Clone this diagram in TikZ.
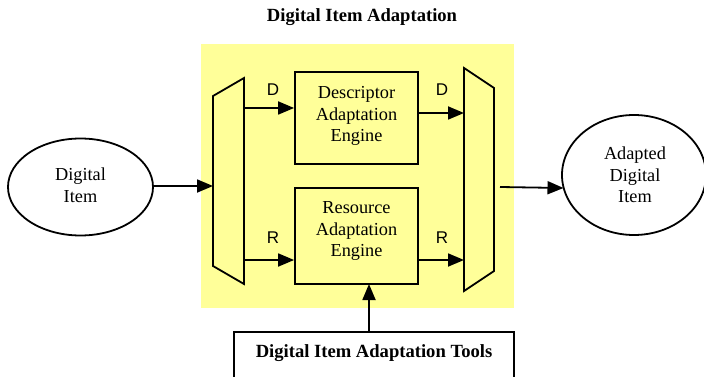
\documentclass[tikz,border=0pt]{standalone}
\usepackage{fontspec}
\setmainfont{Liberation Serif}
\setsansfont{Liberation Sans}
\usetikzlibrary{arrows.meta,shapes.geometric}
\definecolor{areayellow}{RGB}{255,255,153}
\begin{document}
\begin{tikzpicture}[x=1pt,y=-1pt,
  thick line/.style={line width=1.8pt},
  arr/.style={thick line,-{Triangle[length=16pt,width=13pt]}},
  txt/.style={align=center,inner sep=0pt,font=\fontsize{18.3}{21.5}\selectfont},
  heading/.style={inner sep=0pt,font=\bfseries\fontsize{18.6}{21}\selectfont},
  sig/.style={inner sep=0pt,font=\sffamily\fontsize{17}{20}\selectfont},
  engine/.style={draw,thick line,minimum width=123pt,inner sep=0pt},
  item/.style={draw,thick line,ellipse,inner sep=0pt},
  mux/.style={draw,thick line,fill=areayellow,line join=miter}]
  \clip (0,0) rectangle (704,377);
  \useasboundingbox (0,0) rectangle (704,377);
  \fill[white] (0,0) rectangle (704,377);

  % adaptation area
  \fill[areayellow] (201,44) rectangle (514,308);

  \node[heading] (title) at (362,17) {Digital Item Adaptation};

  % input and output items
  \node[item,minimum width=145pt,minimum height=97pt] (src) at (80.5,187) {};
  \node[txt] at (80.5,185) {Digital\\Item};
  \node[item,minimum width=144pt,minimum height=120pt] (dst) at (634,175) {};
  \node[txt] at (635,175) {Adapted\\Digital\\Item};

  % splitter and combiner
  \draw[mux] (213,96) -- (244,78) -- (244,284) -- (213,266) -- cycle;
  \draw[mux] (464,68) -- (494,88) -- (494,271) -- (464,291) -- cycle;
  \coordinate (lin) at (213,186);
  \coordinate (ld) at (244,108);
  \coordinate (lr) at (244,260);
  \coordinate (rd) at (464,113);
  \coordinate (rr) at (464,260);
  \coordinate (rout) at (500,187);
  \coordinate (dstin) at (563.5,188);

  % engines
  \node[engine,minimum height=92pt] (dae) at (356.5,118) {};
  \node[txt] at (356.5,116) {Descriptor\\Adaptation\\Engine};
  \node[engine,minimum height=96pt] (rae) at (356.5,236) {};
  \node[txt] at (356.5,231) {Resource\\Adaptation\\Engine};

  % tools
  \node[draw,thick line,minimum width=280pt,minimum height=60pt,inner sep=0pt] (tools) at (374,362) {};
  \node[heading] at (374,353) {Digital Item Adaptation Tools};
  \coordinate (tup) at (369,332);
  \coordinate (tin) at (369,284);

  % connectors
  \draw[arr] (src.east |- lin) -- (lin);
  \draw[arr] (ld) -- (ld -| dae.west);
  \draw[arr] (lr) -- (lr -| rae.west);
  \draw[arr] (rd -| dae.east) -- (rd);
  \draw[arr] (rr -| rae.east) -- (rr);
  \draw[arr] (rout) -- (dstin);
  \draw[arr] (tup) -- (tin);

  % signal labels
  \node[sig] at (273,90) {D};
  \node[sig] at (273,238) {R};
  \node[sig] at (442,90) {D};
  \node[sig] at (442,238) {R};
\end{tikzpicture}
\end{document}
